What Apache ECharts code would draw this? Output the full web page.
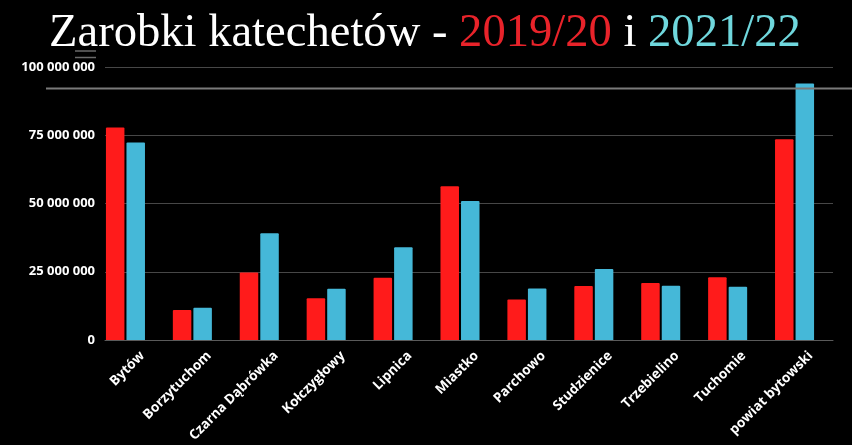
<!DOCTYPE html>
<html>
<head>
<meta charset="utf-8">
<script src="https://cdn.jsdelivr.net/npm/echarts@6/dist/echarts.min.js"></script>
<style>
html,body{margin:0;padding:0;background:#000;}
#chart{width:852px;height:445px;}
</style>
</head>
<body>
<div id="chart"></div>
<script>
const categories = ['Bytów','Borzytuchom','Czarna Dąbrówka','Kołczygłowy','Lipnica','Miastko','Parchowo','Studzienice','Trzebielino','Tuchomie','powiat bytowski'];
const values2019 = [77.8, 11.0, 24.7, 15.3, 22.8, 56.3, 14.8, 19.8, 20.9, 23.0, 73.5].map(v => v * 1e6);
const values2021 = [72.3, 11.8, 39.1, 18.8, 34.0, 50.9, 18.9, 26.0, 19.9, 19.5, 94.0].map(v => v * 1e6);
const yTicks = [0, 25000000, 50000000, 75000000, 100000000];

const fmt = v => String(v).replace(/\B(?=(\d{3})+(?!\d))/g, ' ');

const chart = echarts.init(document.getElementById('chart'));
const TOP = 67, BOTTOM = 105;
const titleFont = {fontFamily: 'Liberation Serif', fontSize: 46.6, fontWeight: 'normal'};
chart.setOption({
  backgroundColor: '#000',
  animation: false,
  title: {
    left: 44, top: 5,
    text: '{w|Zarobki katechetów - }{r|2019/20}{w| i }{c|2021/22}',
    textStyle: {
      fontWeight: 'normal',
      rich: {
        w: Object.assign({color: '#ffffff'}, titleFont),
        r: Object.assign({color: '#e8232a'}, titleFont),
        c: Object.assign({color: '#6fd7dd'}, titleFont)
      }
    }
  },
  grid: [
    {left: 105, right: 19, top: TOP, bottom: BOTTOM},
    {left: 92, right: 24, top: TOP, bottom: BOTTOM},
    {left: 109, right: 8, top: TOP, bottom: BOTTOM}
  ],
  xAxis: [
    {gridIndex: 0, type: 'category', data: categories, axisLine: {lineStyle: {color: '#5a5a5a', width: 1}}, axisTick: {show: false}, axisLabel: {show: false}},
    {gridIndex: 1, type: 'category', data: categories, axisLine: {show: false}, axisTick: {show: false}, axisLabel: {show: false}},
    {gridIndex: 2, type: 'category', data: categories, axisLine: {show: false}, axisTick: {show: false},
     axisLabel: {rotate: 45, interval: 0, margin: 15, color: '#ffffff', fontFamily: 'Open Sans', fontWeight: 'bold', fontSize: 13.5}}
  ],
  yAxis: [
    {gridIndex: 0, type: 'value', min: yTicks[0], max: yTicks[yTicks.length-1], interval: yTicks[1]-yTicks[0],
     axisLine: {show: false}, axisTick: {show: false},
     splitLine: {lineStyle: {color: '#474747', width: 1}},
     axisLabel: {margin: 10, color: '#ffffff', fontFamily: 'Open Sans', fontWeight: 'bold', fontSize: 13, formatter: v => fmt(v)}},
    {gridIndex: 1, type: 'value', min: 0, max: 100000000, show: false, splitLine: {show: false}},
    {gridIndex: 2, type: 'value', min: 0, max: 100000000, show: false, splitLine: {show: false}}
  ],
  series: [
    {name: '2019/20', type: 'bar', xAxisIndex: 1, yAxisIndex: 1, data: values2019, barWidth: 18.5, barGap: '11%',
     itemStyle: {color: '#ff1b1b', borderRadius: [1,1,0,0]}},
    {name: '2021/22', type: 'bar', xAxisIndex: 1, yAxisIndex: 1, data: values2021, barWidth: 18.5, barGap: '11%',
     itemStyle: {color: '#45b8d8', borderRadius: [1,1,0,0]}}
  ],
  graphic: [
    {type: 'line', shape: {x1: 46, y1: 88.5, x2: 852, y2: 88.5}, style: {stroke: '#7a7a7a', lineWidth: 2}, z: 10},
    {type: 'line', shape: {x1: 75, y1: 51, x2: 96, y2: 51}, style: {stroke: '#6a6a6a', lineWidth: 1.5}, z: 10},
    {type: 'line', shape: {x1: 75, y1: 57.5, x2: 96, y2: 57.5}, style: {stroke: '#6a6a6a', lineWidth: 1.5}, z: 10}
  ]
});
</script>
</body>
</html>
